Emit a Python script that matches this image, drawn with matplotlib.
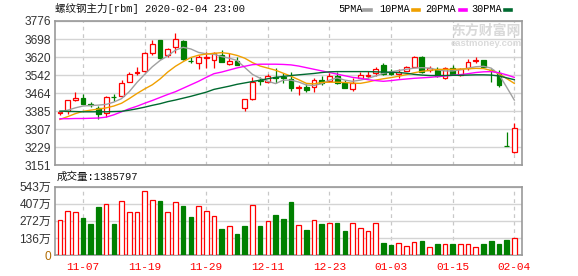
import matplotlib
matplotlib.use("Agg")
import matplotlib.pyplot as plt
from matplotlib.lines import Line2D
import numpy as np

# daily bars, rbm main contract
dates = ["11-04", "11-05", "11-06", "11-07", "11-08", "11-11", "11-12", "11-13", "11-14", "11-15",
         "11-18", "11-19", "11-20", "11-21", "11-22", "11-25", "11-26", "11-27", "11-28", "11-29",
         "12-02", "12-03", "12-04", "12-05", "12-06", "12-09", "12-10", "12-11", "12-12", "12-13",
         "12-16", "12-17", "12-18", "12-19", "12-20", "12-23", "12-24", "12-25", "12-26", "12-27",
         "12-30", "12-31", "01-02", "01-03", "01-06", "01-07", "01-08", "01-09", "01-10", "01-13",
         "01-14", "01-15", "01-16", "01-17", "01-20", "01-21", "01-22", "01-23", "02-03", "02-04"]
opens = [3378, 3388, 3434, 3441, 3416, 3401, 3376, 3447, 3451, 3513,
         3550, 3560, 3639, 3694, 3630, 3662, 3691, 3605, 3593, 3617,
         3607, 3629, 3588, 3603, 3398, 3440, 3522, 3511, 3533, 3532,
         3525, 3487, 3492, 3489, 3521, 3515, 3538, 3506, 3482, 3531,
         3540, 3550, 3586, 3554, 3546, 3561, 3578, 3619, 3564, 3567,
         3531, 3572, 3542, 3571, 3605, 3607, 3566, 3552, 3237, 3210]
highs = [3384, 3435, 3467, 3460, 3425, 3409, 3452, 3459, 3521, 3554,
         3576, 3640, 3694, 3695, 3658, 3723, 3694, 3622, 3629, 3643,
         3643, 3650, 3639, 3622, 3440, 3535, 3535, 3545, 3571, 3549,
         3557, 3499, 3503, 3528, 3538, 3550, 3557, 3521, 3528, 3554,
         3561, 3578, 3596, 3568, 3568, 3581, 3625, 3625, 3583, 3578,
         3578, 3584, 3574, 3610, 3622, 3608, 3568, 3564, 3297, 3333]
lows = [3370, 3372, 3430, 3417, 3404, 3350, 3362, 3430, 3446, 3510,
        3542, 3555, 3629, 3612, 3621, 3636, 3607, 3593, 3567, 3571,
        3571, 3598, 3585, 3586, 3386, 3434, 3500, 3506, 3509, 3506,
        3474, 3456, 3470, 3467, 3499, 3513, 3503, 3486, 3473, 3528,
        3528, 3539, 3542, 3543, 3528, 3559, 3576, 3550, 3557, 3535,
        3524, 3544, 3538, 3564, 3593, 3576, 3511, 3489, 3234, 3206]
closes = [3381, 3433, 3443, 3418, 3414, 3375, 3448, 3445, 3509, 3545,
          3556, 3636, 3675, 3618, 3653, 3697, 3613, 3601, 3622, 3621,
          3636, 3600, 3603, 3587, 3438, 3512, 3518, 3536, 3530, 3529,
          3485, 3491, 3479, 3519, 3506, 3538, 3506, 3488, 3506, 3542,
          3543, 3567, 3547, 3547, 3557, 3577, 3620, 3554, 3574, 3538,
          3571, 3546, 3567, 3597, 3608, 3578, 3562, 3499, 3235, 3312]

ma5 = [3383, 3390, 3400, 3408, 3410, 3412, 3415, 3425, 3440, 3470,
       3510, 3545, 3578, 3605, 3625, 3650, 3662, 3655, 3640, 3634,
       3632, 3622, 3615, 3605, 3575, 3545, 3528, 3515, 3505, 3520,
       3520, 3512, 3499, 3497, 3505, 3520, 3530, 3520, 3515, 3520,
       3528, 3538, 3550, 3556, 3562, 3567, 3572, 3574, 3572, 3565,
       3560, 3560, 3565, 3572, 3578, 3580, 3572, 3545, 3490, 3434]
ma10 = [3350, 3362, 3375, 3385, 3390, 3395, 3400, 3408, 3420, 3440,
        3462, 3482, 3500, 3525, 3555, 3580, 3600, 3618, 3628, 3633,
        3636, 3639, 3635, 3627, 3615, 3596, 3581, 3572, 3563, 3550,
        3537, 3522, 3506, 3504, 3510, 3511, 3511, 3510, 3507, 3506,
        3512, 3520, 3526, 3531, 3537, 3544, 3552, 3558, 3562, 3566,
        3567, 3567, 3568, 3569, 3571, 3570, 3562, 3548, 3527, 3506]
ma20 = [3353, 3353, 3354, 3354, 3355, 3356, 3360, 3370, 3383, 3396,
        3407, 3420, 3432, 3445, 3458, 3470, 3485, 3500, 3515, 3532,
        3548, 3555, 3564, 3573, 3580, 3587, 3589, 3589, 3589, 3588,
        3586, 3581, 3574, 3567, 3560, 3553, 3546, 3539, 3532, 3528,
        3522, 3518, 3515, 3518, 3522, 3525, 3528, 3530, 3532, 3535,
        3538, 3541, 3544, 3548, 3553, 3556, 3557, 3552, 3543, 3532]
ma30 = [3386, 3385, 3384, 3383, 3383, 3383, 3383, 3384, 3385, 3390,
        3396, 3403, 3411, 3418, 3427, 3434, 3442, 3450, 3459, 3468,
        3480, 3487, 3494, 3502, 3508, 3514, 3520, 3526, 3532, 3536,
        3540, 3543, 3546, 3549, 3553, 3556, 3557, 3557, 3557, 3557,
        3557, 3556, 3555, 3554, 3553, 3550, 3545, 3542, 3540, 3540,
        3540, 3541, 3541, 3542, 3543, 3543, 3542, 3538, 3530, 3522]

# volume in 万 lots, bar colour as drawn (r = up, g = down)
volume = [278, 350, 339, 294, 246, 382, 403, 246, 429, 339,
          339, 509, 435, 429, 339, 421, 390, 302, 390, 350,
          310, 207, 228, 167, 231, 395, 231, 270, 318, 286,
          424, 236, 199, 278, 246, 254, 254, 193, 254, 215,
          191, 254, 95, 80, 95, 72, 103, 111, 64, 87,
          87, 87, 87, 87, 64, 87, 111, 87, 119, 138.5797]
vol_dir = "rrrgggrgrrrrrgrrggrrrgrggrgrgg" + "grgrgrggrrrrggrrrgrgrgrrrggggr"

price_ticks = ["3151", "3229", "3307", "3385", "3464", "3542", "3620", "3698", "3776"]
vol_ticks = ["0", "136万", "272万", "407万", "543万"]
date_ticks = ["11-07", "11-19", "11-29", "12-11", "12-23", "01-03", "01-15", "02-04"]

RED = "#ff0000"
GREEN = "#008000"
SPINE = "#999999"
GRID = "#d4d4d4"
MONO = ["Liberation Mono", "Noto Sans CJK SC"]
SANS = ["Liberation Sans", "Noto Sans CJK SC"]

W, H = 578, 276
fig = plt.figure(figsize=(W / 100, H / 100), dpi=100)
left, right = 55.3, 522
ax = fig.add_axes([left / W, 1 - 165.4 / H, (right - left) / W, (165.4 - 21) / H])
axv = fig.add_axes([left / W, 1 - 255 / H, (right - left) / W, (255 - 186.7) / H])

x = np.arange(len(closes))
o, c = np.array(opens), np.array(closes)
up = c >= o
col = np.where(up, RED, GREEN)

# candles
ax.vlines(x, lows, highs, colors=col, lw=0.9, zorder=2)
ax.bar(x, c - o, bottom=o, width=0.62, color=np.where(up, "white", GREEN),
       edgecolor=col, lw=0.9, zorder=3)

# moving averages
for vals, color in [(ma5, "#a0a0a0"), (ma10, "#f0a000"), (ma20, "#ff00ff"), (ma30, "#006a30")]:
    ax.plot(x, vals, color=color, lw=1.0, zorder=4)

# volume
vcol = [RED if d == "r" else GREEN for d in vol_dir]
vface = ["white" if d == "r" else GREEN for d in vol_dir]
axv.bar(x, volume, width=0.6, color=vface, edgecolor=vcol, lw=0.9, zorder=3)

pmin, pmax = 3151, 3776
vmax = 543
tick_pos = [dates.index(d) for d in date_ticks]

for a in (ax, axv):
    a.set_xlim(-0.6, 60.0)
    for s in a.spines.values():
        s.set_color(SPINE)
        s.set_linewidth(1.2)
    for p in tick_pos:
        a.axvline(p, color="#c8c8c8", lw=0.9, ls=(0, (3, 3)), zorder=1)
    a.tick_params(length=0, pad=3)

ax.set_ylim(pmin, pmax)
ax.set_yticks(np.linspace(pmin, pmax, len(price_ticks)))
ax.set_yticklabels(price_ticks, family=SANS, fontsize=8.6, color="#333333")
ax.yaxis.grid(True, color=GRID, lw=1, zorder=0)
ax.set_xticks([])

axv.set_ylim(0, vmax)
axv.set_yticks(np.linspace(0, vmax, len(vol_ticks)))
axv.set_yticklabels(vol_ticks, family=SANS, fontsize=8.6, color="#333333")
axv.get_yticklabels()[0].set_color("#b06a00")
axv.yaxis.grid(True, color=GRID, lw=1, zorder=0)
axv.set_xticks(tick_pos)
axv.set_xticklabels(date_ticks, family=MONO, fontsize=8, color=RED)
axv.tick_params(axis="x", pad=5)

# header texts
fig.text(55 / W, 1 - 9 / H, "螺纹钢主力[rbm] 2020-02-04 23:00", family=MONO,
         fontsize=7.6, va="center", ha="left", color="#111111")
legend = [("5PMA", 338.5, 364.5, "#a0a0a0"), ("10PMA", 379.5, 413, "#f0a000"),
          ("20PMA", 425, 459.5, "#ff00ff"), ("30PMA", 471, 504.5, "#006a30")]
for label, tx, lx, color in legend:
    fig.text(tx / W, 1 - 9 / H, label, family=MONO, fontsize=7.3, va="center", ha="left")
    fig.add_artist(Line2D([lx / W, (lx + 6) / W], [1 - 9.5 / H, 1 - 9.5 / H],
                          color=color, lw=2.6, transform=fig.transFigure))

fig.text(57 / W, 1 - 177 / H, "成交量:1385797", family=MONO, fontsize=7.6,
         va="center", ha="left", color="#111111")

# watermark
fig.text(486 / W, 1 - 31 / H, "东方财富网", family=SANS, fontsize=10, fontweight="bold",
         va="center", ha="center", color="#d9d9d9", zorder=0)
fig.text(486 / W, 1 - 43.5 / H, "eastmoney.com", family=SANS, fontsize=6.8, fontweight="bold",
         va="center", ha="center", color="#dadada", zorder=0)

fig.savefig("out.png", dpi=100)
